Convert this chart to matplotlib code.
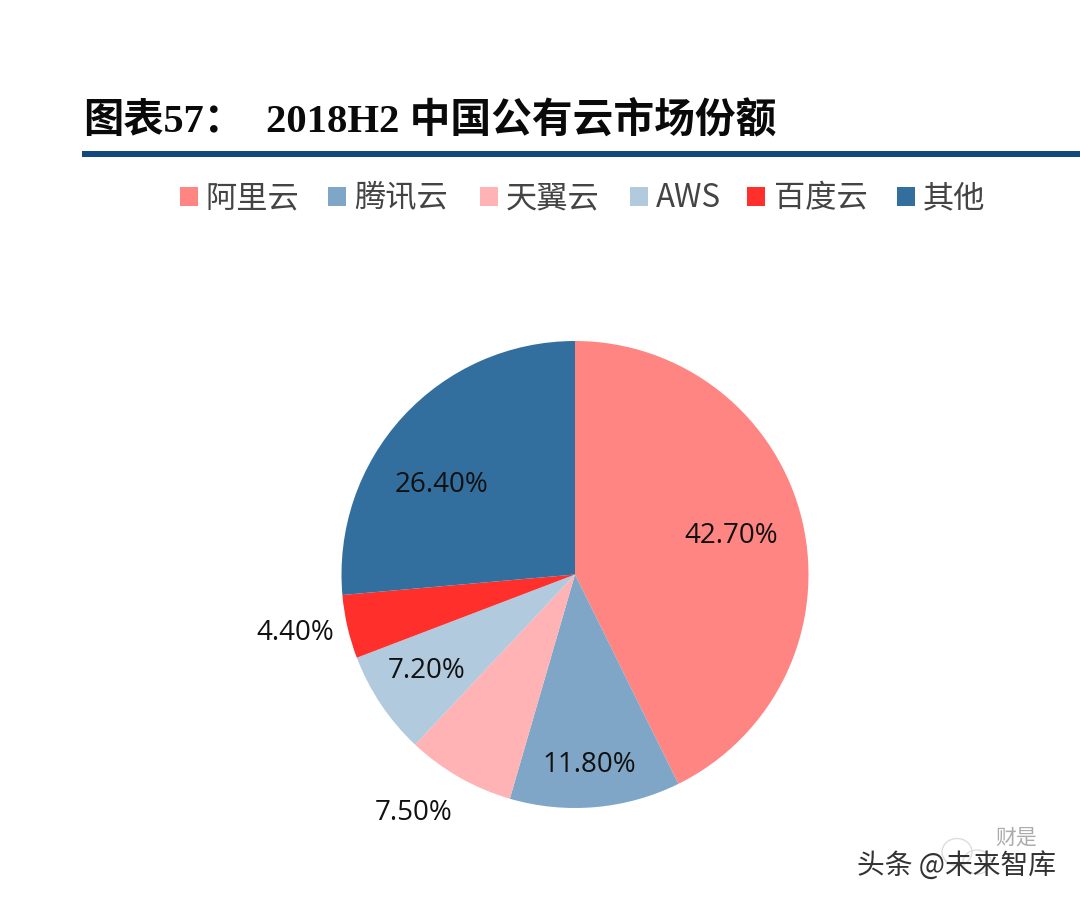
import matplotlib
matplotlib.use("Agg")
import matplotlib.pyplot as plt
from matplotlib.patches import Ellipse, Rectangle

W, H = 1080, 903

categories = ["阿里云", "腾讯云", "天翼云", "AWS", "百度云", "其他"]
shares = [42.7, 11.8, 7.5, 7.2, 4.4, 26.4]
colors = ["#ff8582", "#7fa6c6", "#ffb3b5", "#b2cade", "#ff2f2b", "#336f9e"]

# label centres and legend slots, in image pixels
label_xy = [(731, 536), (589, 765), (414, 813), (427, 671), (295, 633), (442, 485)]
legend_box_x = [180, 328, 480, 630, 747, 897]
legend_text_x = [205, 354, 506, 656, 774, 923]

fig = plt.figure(figsize=(W / 100, H / 100), dpi=100, facecolor="white")

# overlay in pixel coordinates for the header and annotations
bg = fig.add_axes([0, 0, 1, 1])
bg.set_xlim(0, W)
bg.set_ylim(H, 0)
bg.axis("off")

# pie
cx, cy, r = 575, 575.5, 233.5
ax = fig.add_axes([(cx - r) / W, 1 - (cy + r) / H, 2 * r / W, 2 * r / H])
ax.pie(shares, colors=colors, startangle=90, counterclock=False, radius=1,
       wedgeprops={"linewidth": 0})
ax.set_xlim(-1, 1)
ax.set_ylim(-1, 1)
ax.set_zorder(1)

# overlay for text above the pie
top = fig.add_axes([0, 0, 1, 1], zorder=2)
top.set_xlim(0, W)
top.set_ylim(H, 0)
top.axis("off")

for v, (x, y) in zip(shares, label_xy):
    top.text(x, y, f"{v:.2f}%", ha="center", va="center", fontsize=20,
             family="Open Sans", color="#111111")

# title and rule
title_font = ["Liberation Serif", "Noto Sans CJK SC"]
bg.text(83, 122, "图表57：", fontsize=29, fontweight="bold", family=title_font,
        ha="left", va="center", color="#0a0a0a")
bg.text(266, 122, "2018H2 中国公有云市场份额", fontsize=29.3, fontweight="bold",
        family=title_font, ha="left", va="center", color="#0a0a0a")
bg.add_patch(Rectangle((82, 152), W - 82, 6, color="#124a80", lw=0))

# legend
for name, col, bx, tx in zip(categories, colors, legend_box_x, legend_text_x):
    bg.add_patch(Rectangle((bx, 188), 18, 19, color=col, lw=0))
    bg.text(tx, 198, name, fontsize=22.5, family=["Noto Sans CJK SC", "DejaVu Sans"],
            fontweight="light", ha="left", va="center", color="#444444")

# watermark
bg.add_patch(Ellipse((957, 853), 30, 27, fill=False, ec="#dddddd", lw=1))
bg.add_patch(Ellipse((977, 863), 28, 24, fill=False, ec="#dddddd", lw=1))
bg.text(857, 866, "头条 @未来智库", fontsize=20, family="Noto Sans CJK SC",
        ha="left", va="center", color="#333333")
bg.text(995, 838, "财是", fontsize=15, family="Noto Sans CJK SC",
        ha="left", va="center", color="#888888", alpha=0.7)

fig.savefig("out.png", dpi=100, facecolor="white")
